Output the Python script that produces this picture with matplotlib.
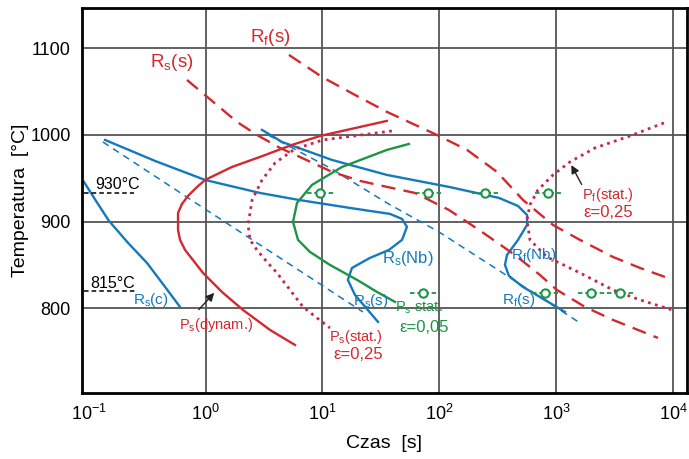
import matplotlib
matplotlib.use("Agg")
import matplotlib.pyplot as plt

plt.rcParams['font.family'] = ['Liberation Sans', 'DejaVu Sans']
plt.rcParams['mathtext.fontset'] = 'custom'
plt.rcParams['mathtext.rm'] = 'Liberation Sans'
plt.rcParams['mathtext.it'] = 'Liberation Sans:italic'
plt.rcParams['mathtext.default'] = 'regular'

# curves: time [s] and temperature [C]
rs_c_t = [0.091, 0.1153, 0.149, 0.217, 0.315, 0.45, 0.604]
rs_c_T = [945.7, 923.8, 900.7, 875.3, 852.2, 824.5, 801.4]

rs_s_blue_t = [0.132, 0.99, 22.2]
rs_s_blue_T = [991.9, 914.4, 795.6]

rs_nb_t = [0.138, 0.369, 0.99, 2.92, 6.30, 17.2, 37.9, 48.0, 52.9, 48.0, 37.1, 25.5, 17.9, 16.5, 19.0, 29.9]
rs_nb_T = [994.2, 970.0, 948.0, 933.0, 924.9, 915.7, 908.8, 903.0, 893.8, 878.8, 867.2, 858.0, 846.4, 832.6, 815.2, 784.1]

rf_nb_t = [3.04, 4.51, 12.08, 35.7, 121, 324, 472, 564, 564, 472, 380, 365, 395, 520, 802, 1189]
rf_nb_T = [1005.8, 991.9, 971.1, 953.8, 940.0, 927.3, 918.0, 907.6, 896.1, 878.8, 861.4, 849.9, 837.2, 824.5, 809.5, 795.6]

rf_s_blue_t = [3.42, 11.6, 35.6, 99.4, 282, 727, 1600]
rf_s_blue_T = [1000, 961.9, 921.5, 888.0, 848.7, 812.9, 782.9]

ps_dyn_t = [35.6, 9.53, 5.49, 2.92, 1.68, 0.99, 0.828, 0.707, 0.628, 0.581, 0.581, 0.604, 0.667, 0.95, 1.38, 2.09, 3.56, 5.82]
ps_dyn_T = [1016.2, 998.8, 988.5, 974.6, 963.0, 948.0, 938.8, 929.6, 920.3, 909.9, 890.3, 878.8, 867.2, 840.7, 818.7, 797.9, 774.8, 757.5]

ps_stat_t = [39.3, 10.1, 5.82, 3.93, 3.04, 2.50, 2.31, 2.40, 2.75, 3.35, 4.08, 5.28, 6.82, 8.98, 11.6]
ps_stat_T = [1004.6, 994.2, 983.8, 967.7, 948.0, 924.9, 896.1, 878.8, 867.2, 853.4, 840.7, 821.0, 801.4, 788.7, 777.1]

ps_005_t = [55.0, 35.6, 14.7, 8.14, 6.06, 5.60, 6.18, 7.82, 11.6, 19.8, 29.3, 41.8]
ps_005_T = [989.6, 982.7, 963.0, 942.3, 921.5, 899.5, 878.8, 864.9, 849.9, 832.6, 818.7, 807.2]

rs_s_red_t = [0.693, 1.86, 2.75, 4.33, 6.69, 12.1, 21.0, 35.7, 61.9, 121, 232, 444, 727, 1017, 1766, 3067, 7448]
rs_s_red_T = [1063.5, 1015.0, 1000, 985.0, 973.4, 957.3, 946.9, 940.0, 933.0, 913.4, 888.0, 861.4, 838.3, 821.0, 801.4, 786.4, 765.6]

rf_s_red_t = [5.17, 9.90, 19.0, 35.7, 95.5, 173, 312, 520, 940, 1600, 3067, 5230, 8550]
rf_s_red_T = [1092.4, 1067.0, 1046.2, 1026.6, 1000, 982.7, 957.3, 925.0, 896.1, 878.8, 859.1, 846.4, 836.0]

pf_stat_t = [8375, 4285, 2150, 1313, 940, 700, 597, 564, 597, 836, 1600, 3067, 5230, 9816]
pf_stat_T = [1013.9, 998.8, 985.0, 968.8, 953.8, 936.5, 919.2, 901.8, 878.8, 859.1, 840.7, 821.0, 809.5, 798.0]

# stat. test points (green circles)
pts_hi_t = [9.59, 80, 246, 851]
pts_hi_T = 933
pts_lo_t = [72.6, 802]
pts_lo_pair_t = [1987, 3524]
pts_lo_T = 818

grid_x = [1, 10, 100, 1000, 10000]
grid_y = [800, 900, 1000, 1100]
xtick_pos = [0.1, 1, 10, 100, 1000, 10000]
xtick_lab = ['$10^{-1}$', '$10^{0}$', '$10^{1}$', '$10^{2}$', '$10^{3}$', '$10^{4}$']

RED = '#d3282f'
RED_DOT = '#c9264a'
BLUE = '#1479bd'
GREEN = '#1d9446'

fig = plt.figure(figsize=(6.89, 4.59), dpi=100)
ax = fig.add_axes([0.119, 0.1438, 0.878, 0.8388])
ax.set_xscale('log')
ax.set_xlim(0.0875, 13180)
ax.set_ylim(702, 1146.6)

for gx in grid_x:
  ax.axvline(gx, color='#555555', lw=1.3, zorder=0)
for gy in grid_y:
  ax.axhline(gy, color='#555555', lw=1.3, zorder=0)

# blue curves
ax.plot(rs_c_t, rs_c_T, color=BLUE, lw=1.7)
ax.plot(rs_nb_t, rs_nb_T, color=BLUE, lw=1.7)
ax.plot(rf_nb_t, rf_nb_T, color=BLUE, lw=1.7)
ax.plot(rs_s_blue_t, rs_s_blue_T, color=BLUE, lw=1.1, dashes=(4.5, 3.5))
ax.plot(rf_s_blue_t, rf_s_blue_T, color=BLUE, lw=1.1, dashes=(4.5, 3.5))

# red curves
ax.plot(ps_dyn_t, ps_dyn_T, color=RED, lw=1.7)
ax.plot(ps_stat_t, ps_stat_T, color=RED_DOT, lw=2.0, dashes=(1, 1.6))
ax.plot(pf_stat_t, pf_stat_T, color=RED_DOT, lw=2.0, dashes=(1, 1.6))
ax.plot(rs_s_red_t, rs_s_red_T, color=RED, lw=1.7, dashes=(6, 3.5))
ax.plot(rf_s_red_t, rf_s_red_T, color=RED, lw=1.7, dashes=(6, 3.5))

# green curve
ax.plot(ps_005_t, ps_005_T, color=GREEN, lw=1.7)

for t in pts_hi_t:
  ax.plot([t / 1.3, t * 1.3], [pts_hi_T, pts_hi_T], color=GREEN, lw=1.3, dashes=(2.5, 1.5))
ax.plot(pts_hi_t, [pts_hi_T] * len(pts_hi_t), 'o', ms=6, mfc='white', mec=GREEN, mew=1.5, ls='none')
for t in pts_lo_t:
  ax.plot([t / 1.3, t * 1.3], [pts_lo_T, pts_lo_T], color=GREEN, lw=1.3, dashes=(2.5, 1.5))
ax.plot([pts_lo_pair_t[0] / 1.3, pts_lo_pair_t[1] * 1.3], [pts_lo_T, pts_lo_T], color=GREEN, lw=1.3, dashes=(2.5, 1.5))
lo_all = pts_lo_t + pts_lo_pair_t
ax.plot(lo_all, [pts_lo_T] * len(lo_all), 'o', ms=6, mfc='white', mec=GREEN, mew=1.5, ls='none')

# reference temperatures
ax.plot([0.091, 0.244], [933, 933], color='black', lw=1.1, dashes=(3, 2))
ax.text(0.178, 943, '930°C', fontsize=11.5, ha='center', va='center')
ax.plot([0.091, 0.249], [820, 820], color='black', lw=1.1, dashes=(3, 2))
ax.text(0.161, 829, '815°C', fontsize=11.5, ha='center', va='center')

# labels
ax.text(0.516, 1084, 'R$_s$(s)', color=RED, fontsize=13.5, ha='center', va='center')
ax.text(3.56, 1113, 'R$_f$(s)', color=RED, fontsize=13.5, ha='center', va='center')
ax.text(54, 857, 'R$_s$(Nb)', color=BLUE, fontsize=12, ha='center', va='center')
ax.text(640, 861, 'R$_f$(Nb)', color=BLUE, fontsize=11, ha='center', va='center')
ax.text(0.341, 809, 'R$_s$(c)', color=BLUE, fontsize=11, ha='center', va='center')
ax.text(26, 808, 'R$_s$(s)', color=BLUE, fontsize=11, ha='center', va='center')
ax.text(482, 809, 'R$_f$(s)', color=BLUE, fontsize=11, ha='center', va='center')
ax.text(1.23, 780, 'P$_s$(dynam.)', color=RED, fontsize=10.5, ha='center', va='center')
ax.text(19.4, 767, 'P$_s$(stat.)', color=RED, fontsize=10.5, ha='center', va='center')
ax.text(20.1, 746, 'ε=0,25', color=RED, fontsize=12, ha='center', va='center')
ax.text(67, 800, 'P$_s$ stat.', color=GREEN, fontsize=10.5, ha='center', va='center')
ax.text(74, 778, 'ε=0,05', color=GREEN, fontsize=12, ha='center', va='center')
ax.text(2780, 931, 'P$_f$(stat.)', color=RED, fontsize=10.5, ha='center', va='center')
ax.text(2780, 910, 'ε=0,25', color=RED, fontsize=12, ha='center', va='center')

ax.annotate('', xy=(1.23, 820), xytext=(0.844, 796),
            arrowprops=dict(arrowstyle='-|>', color='#222222', lw=1.0, mutation_scale=12))
ax.annotate('', xy=(1315, 968), xytext=(1698, 940),
            arrowprops=dict(arrowstyle='-|>', color='#222222', lw=1.0, mutation_scale=12))

ax.set_xticks(xtick_pos)
ax.set_xticklabels(xtick_lab)
ax.xaxis.set_minor_locator(matplotlib.ticker.NullLocator())
ax.set_yticks(grid_y)
ax.tick_params(length=0, labelsize=13, pad=8)
for s in ax.spines.values():
  s.set_linewidth(2.0)
  s.set_color('black')

ax.set_xlabel('Czas  [s]', fontsize=14, labelpad=8)
ax.set_ylabel('Temperatura  [°C]', fontsize=14, labelpad=1)

fig.savefig('out.png', dpi=100)
